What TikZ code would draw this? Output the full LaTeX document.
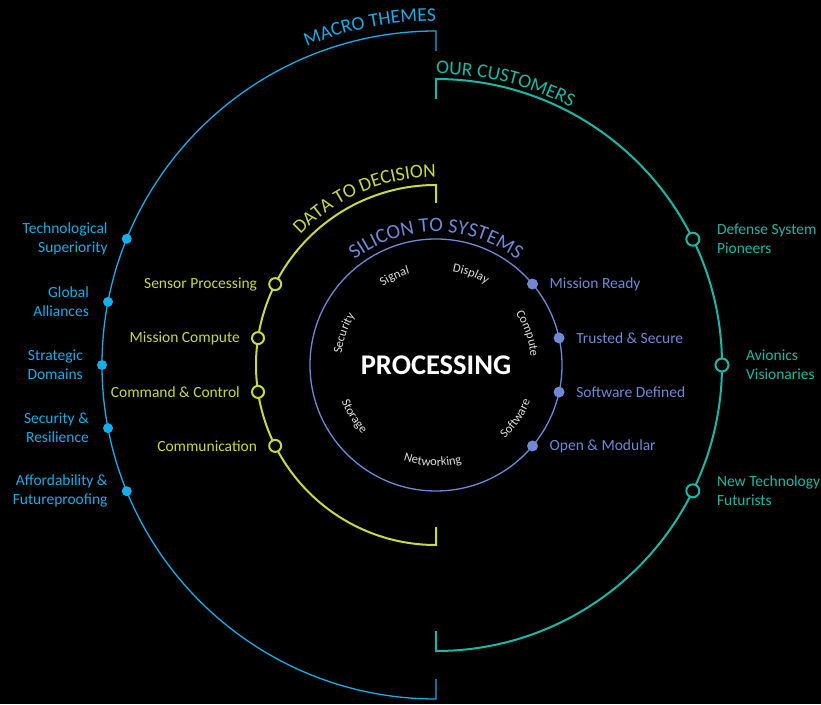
\documentclass[tikz,border=0pt]{standalone}
\usepackage{fontspec}
\setmainfont{Carlito}
\usepackage{tikz}
\usetikzlibrary{decorations.text}

\definecolor{macroblue}{RGB}{24,172,232}
\definecolor{custteal}{RGB}{28,184,166}
\definecolor{datalime}{RGB}{200,218,64}
\definecolor{siliconblue}{RGB}{112,136,214}
\definecolor{wordgrey}{RGB}{222,222,222}

\newcommand{\labelfont}{\fontsize{15.5}{19}\selectfont}
\newcommand{\titlefont}{\fontsize{19.5}{19.5}\selectfont}
\newcommand{\wordfont}{\fontsize{12.5}{12.5}\selectfont}

\tikzset{
  macrodot/.style={circle, fill=macroblue, inner sep=0pt, minimum size=10pt},
  custdot/.style={circle, draw=custteal, fill=black, line width=2pt, inner sep=0pt, minimum size=13pt},
  datadot/.style={circle, draw=datalime, fill=black, line width=2pt, inner sep=0pt, minimum size=12pt},
  silicondot/.style={circle, fill=siliconblue, inner sep=0pt, minimum size=11pt},
  ringlabel/.style={font=\labelfont, inner sep=0pt},
  ringtitle/.style={decorate, decoration={text along path, text color=#1}},
}

\begin{document}
\begin{tikzpicture}[x=1pt,y=1pt]
    % Background and frame
    \fill[black] (-436,-339) rectangle (385,365);
    \useasboundingbox (-436,-339) rectangle (385,365);

    % Define the centre of the rings
    \coordinate (O) at (0,0);

    % Draw the four rings
    \draw[macroblue, line width=1.3pt] (0,314) -- (0,334) arc[start angle=90, end angle=270, radius=334] -- (0,-314);
    \draw[custteal, line width=2pt] (0,266) -- (0,286) arc[start angle=90, end angle=-90, radius=286] -- (0,-266);
    \draw[datalime, line width=2pt] (0,162) -- (0,180) arc[start angle=90, end angle=270, radius=180] -- (0,-162);
    \draw[siliconblue, line width=1.3pt] (O) circle[radius=126];

    % Ring titles
    \path[ringtitle=macroblue, decoration={text align=right, text={|\titlefont|MACRO THEMES}}]
        (135:344) arc[start angle=135, end angle=90, radius=344];
    \path[ringtitle=custteal, decoration={text align=left, text={|\titlefont|OUR CUSTOMERS}}]
        (90:291) arc[start angle=90, end angle=40, radius=291];
    \path[ringtitle=datalime, decoration={text align=right, text={|\titlefont|DATA TO DECISION}}]
        (160:188) arc[start angle=160, end angle=90, radius=188];
    \path[ringtitle=siliconblue, decoration={text align=center, text={|\fontsize{20.5}{20.5}\selectfont|SILICON TO SYSTEMS}}]
        (150:133) arc[start angle=150, end angle=30, radius=133];

    % Words inside the inner ring
    \path[ringtitle=wordgrey, decoration={text align=center, text={|\wordfont|Security}}]
        (191:95) arc[start angle=191, end angle=131, radius=95];
    \path[ringtitle=wordgrey, decoration={text align=center, text={|\wordfont|Signal}}]
        (145:95) arc[start angle=145, end angle=85, radius=95];
    \path[ringtitle=wordgrey, decoration={text align=center, text={|\wordfont|Display}}]
        (99:95) arc[start angle=99, end angle=39, radius=95];
    \path[ringtitle=wordgrey, decoration={text align=center, text={|\wordfont|Compute}}]
        (49:95) arc[start angle=49, end angle=-11, radius=95];
    \path[ringtitle=wordgrey, decoration={text align=center, text={|\wordfont|Software}}]
        (-64:101) arc[start angle=-64, end angle=-4, radius=101];
    \path[ringtitle=wordgrey, decoration={text align=center, text={|\wordfont|Networking}}]
        (-122:101) arc[start angle=-122, end angle=-62, radius=101];
    \path[ringtitle=wordgrey, decoration={text align=center, text={|\wordfont|Storage}}]
        (-178:101) arc[start angle=-178, end angle=-118, radius=101];

    \node[font=\fontsize{28.5}{28.5}\selectfont\bfseries, text=white] (core) at (O) {PROCESSING};

    % Macro themes, left of the outer ring
    \foreach \ang/\name/\txt in {157.8/tech/{Technological\\Superiority}, 169.1/global/{Global\\Alliances},
        180/strategic/{Strategic\\Domains}, 190.9/secure/{Security \&\\Resilience},
        202.2/afford/{Affordability \&\\Futureproofing}} {
        \node[macrodot] (\name) at (\ang:334) {};
        \node[ringlabel, text=macroblue, align=right, anchor=east] (\name-l) at ([xshift=-19pt]\name.center) {\txt};
    }

    % Customers, right of the outer ring
    \foreach \ang/\name/\txt in {26.1/defense/{Defense System\\Pioneers}, 0/avionics/{Avionics\\Visionaries},
        -26.1/newtech/{New Technology\\Futurists}} {
        \node[custdot] (\name) at (\ang:286) {};
        \node[ringlabel, text=custteal, align=left, anchor=west] (\name-l) at ([xshift=24pt]\name.center) {\txt};
    }

    % Data to decision
    \foreach \ang/\name/\txt in {153.3/sensor/Sensor Processing, 171.4/mission/Mission Compute,
        188.6/command/Command \& Control, 206.7/comms/Communication} {
        \node[datadot] (\name) at (\ang:180) {};
        \node[ringlabel, text=datalime, anchor=east] (\name-l) at ([xshift=-18pt]\name.center) {\txt};
    }

    % Silicon to systems
    \foreach \ang/\name/\txt in {40/ready/Mission Ready, 12.4/trusted/Trusted \& Secure,
        -12.4/software/Software Defined, -40/open/Open \& Modular} {
        \node[silicondot] (\name) at (\ang:126) {};
        \node[ringlabel, text=siliconblue, anchor=west] (\name-l) at ([xshift=17pt]\name.center) {\txt};
    }
\end{tikzpicture}
\end{document}
